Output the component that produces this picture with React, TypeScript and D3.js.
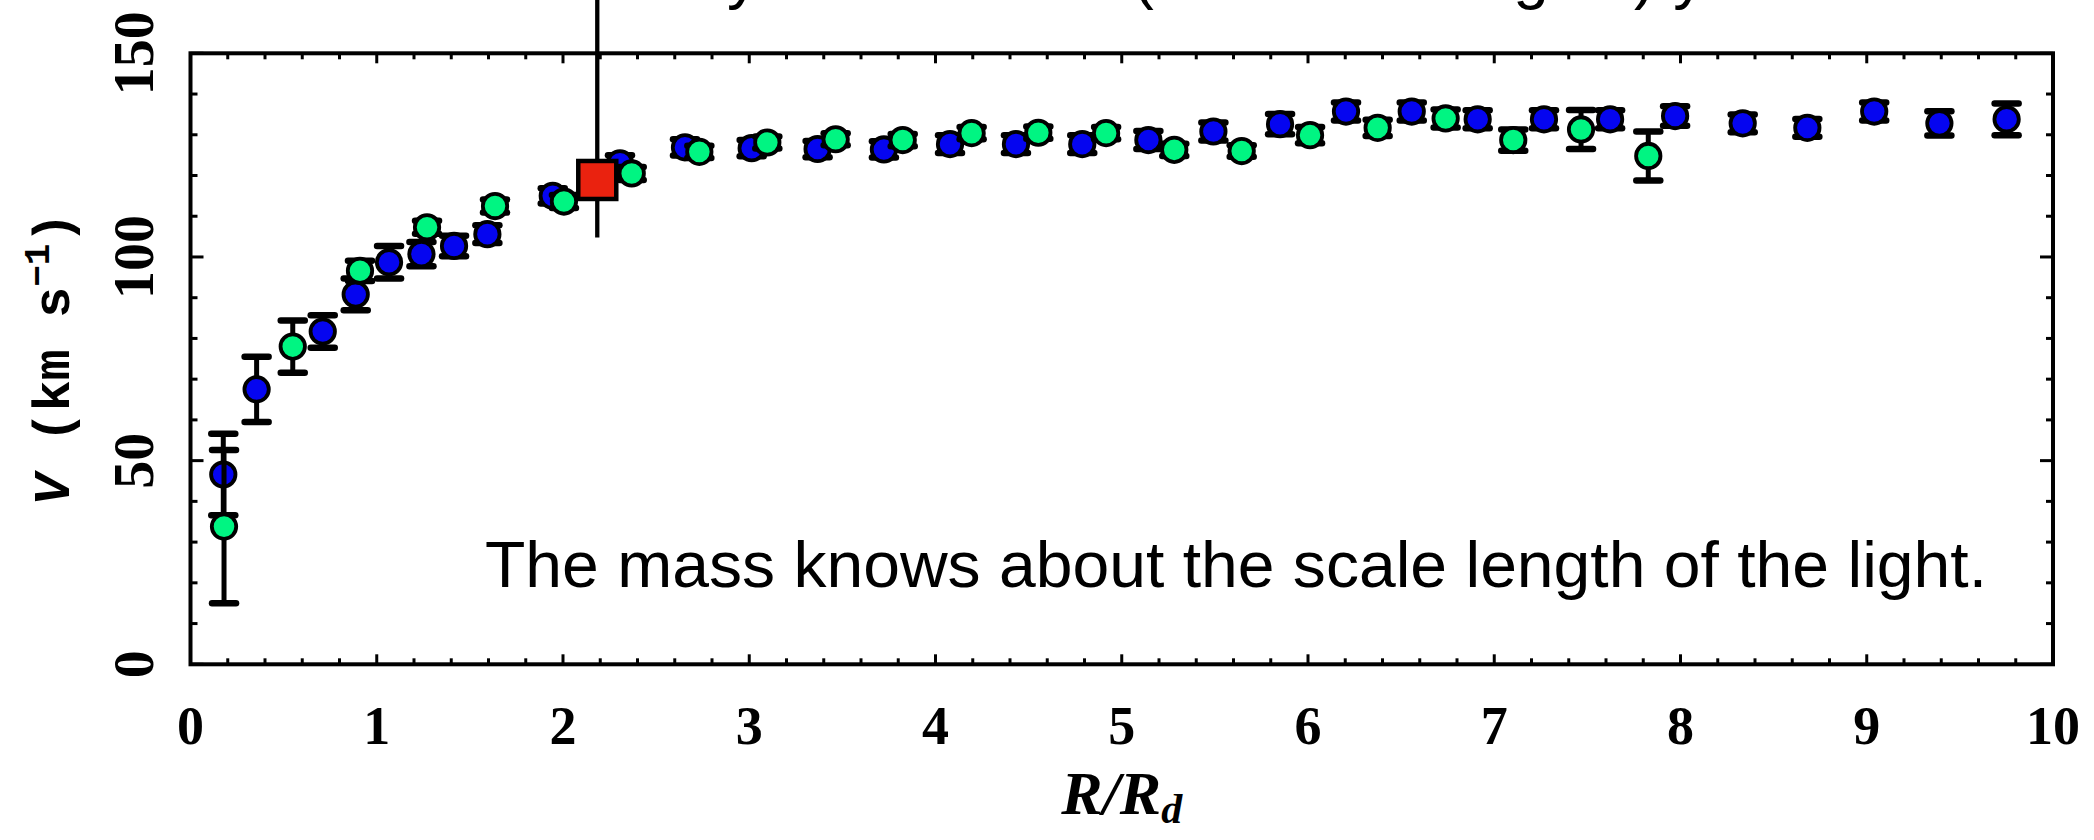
import React from "react";
import * as d3 from "d3";

// ---- data ----
const xTickLabels = [0, 1, 2, 3, 4, 5, 6, 7, 8, 9, 10];
const yTickLabels = [0, 50, 100, 150];

const blueR = [0.176, 0.355, 0.71, 0.887, 1.066, 1.24, 1.415, 1.594, 1.945, 2.306, 2.655, 3.013, 3.367, 3.723, 4.078, 4.432, 4.788, 5.143, 5.492, 5.85, 6.204, 6.557, 6.911, 7.267, 7.622, 7.971, 8.334, 8.681, 9.04, 9.39, 9.751];
const blueV = [46.6, 67.5, 81.7, 90.8, 98.7, 100.7, 102.7, 105.6, 115.0, 123.0, 126.9, 126.7, 126.5, 126.4, 127.7, 127.7, 127.7, 128.7, 130.8, 132.6, 135.7, 135.7, 133.8, 133.8, 133.8, 134.6, 132.8, 131.7, 135.7, 132.8, 133.8];
const blueErr = [10, 8, 4, 3.9, 4, 3, 2.5, 2.2, 1.9, 2, 2, 2, 2, 2, 2.2, 2.2, 2.2, 2.2, 2.2, 2.5, 2.2, 2.2, 2.2, 2.2, 2.2, 2.4, 2.2, 2.2, 2.2, 3, 3.9];

const greenR = [0.18, 0.549, 0.91, 1.27, 1.635, 2.005, 2.369, 2.732, 3.097, 3.464, 3.824, 4.194, 4.552, 4.916, 5.282, 5.644, 6.011, 6.374, 6.739, 7.102, 7.466, 7.827];
const greenV = [33.8, 78.0, 96.6, 107.3, 112.5, 113.6, 120.5, 125.8, 128.1, 128.9, 128.7, 130.4, 130.5, 130.4, 126.3, 126.0, 129.9, 131.7, 134.0, 128.7, 131.3, 124.8];
const greenErr = [18.8, 6.4, 2.5, 1.6, 1.6, 1.6, 1.6, 1.5, 1.5, 1.5, 1.5, 1.5, 1.5, 1.5, 1.5, 1.4, 2, 2, 2.2, 2.6, 4.8, 6];

const redR = [2.184];
const redV = [118.9];
const redLo = [104.8];
const redHi = [170];

const annotation = "The mass knows about the scale length of the light.";
const topLine = "The disk velocity is at its max (2.2 scale lengths) yet";

const W = 2094;
const H = 840;

const BLUE = "#0505F0";
const GREEN = "#00F582";
const RED = "#EA220F";

export default function App() {
  const x = d3.scaleLinear().domain([0, 10]).range([190.5, 2053]);
  const y = d3.scaleLinear().domain([0, 150]).range([664.3, 53.3]);
  const [x0, x1] = x.range();
  const [y0, y1] = y.range();

  const xMinor = x.ticks(50);
  const yMinor = y.ticks(15);

  const r = 12.2;
  const capHalf = 12;

  const series = (R: number[], V: number[], E: number[], fill: string, key: string) => (
    <g key={key}>
      {R.map((rv, i) => {
        const cx = x(rv);
        const top = y(V[i] + E[i]);
        const bot = y(V[i] - E[i]);
        return (
          <g key={i}>
            <line x1={cx} x2={cx} y1={top} y2={bot} stroke="#000" strokeWidth={5} />
            <line x1={cx - capHalf} x2={cx + capHalf} y1={top} y2={top} stroke="#000" strokeWidth={6.5} strokeLinecap="round" />
            <line x1={cx - capHalf} x2={cx + capHalf} y1={bot} y2={bot} stroke="#000" strokeWidth={6.5} strokeLinecap="round" />
            <circle cx={cx} cy={y(V[i])} r={r} fill={fill} stroke="#000" strokeWidth={3.8} />
          </g>
        );
      })}
    </g>
  );

  return (
    <div style={{ position: "absolute", left: 0, top: 0 }}>
      <svg width={W} height={H} style={{ display: "block", background: "#fff" }}>
        {/* heading line, cut off at the top edge as in the reference */}
        <text x={286} y={-3} fontFamily="Liberation Sans, Arial, sans-serif" fontSize={64} fill="#000">
          {topLine}
        </text>

        {/* ticks */}
        {xMinor.map((t, i) => {
          const major = Math.abs(t - Math.round(t)) < 1e-6;
          const len = major ? 10 : 6;
          return (
            <g key={"xt" + i}>
              <line x1={x(t)} x2={x(t)} y1={y0} y2={y0 - len} stroke="#000" strokeWidth={3} />
              <line x1={x(t)} x2={x(t)} y1={y1} y2={y1 + len} stroke="#000" strokeWidth={3} />
            </g>
          );
        })}
        {yMinor.map((t, i) => {
          const major = t % 50 === 0;
          const len = major ? 13 : 7;
          return (
            <g key={"yt" + i}>
              <line x1={x0} x2={x0 + len} y1={y(t)} y2={y(t)} stroke="#000" strokeWidth={3} />
              <line x1={x1} x2={x1 - len} y1={y(t)} y2={y(t)} stroke="#000" strokeWidth={3} />
            </g>
          );
        })}

        {/* frame */}
        <rect x={x0} y={y1} width={x1 - x0} height={y0 - y1} fill="none" stroke="#000" strokeWidth={4} />

        {/* x tick labels */}
        {xTickLabels.map((t) => (
          <text key={"xl" + t} x={x(t)} y={744} textAnchor="middle" fontFamily="Liberation Serif, serif" fontWeight="bold" fontSize={54} fill="#000">
            {t}
          </text>
        ))}
        {/* y tick labels */}
        {yTickLabels.map((t) => (
          <text key={"yl" + t} transform={`translate(153,${y(t)}) rotate(-90)`} textAnchor="middle" fontFamily="Liberation Serif, serif" fontWeight="bold" fontSize={56} fill="#000">
            {t}
          </text>
        ))}

        {/* axis titles */}
        <text x={(x0 + x1) / 2} y={814} textAnchor="middle" fontFamily="Liberation Serif, serif" fontStyle="italic" fontWeight="bold" fontSize={62} fill="#000">
          R/R<tspan fontSize={42} dy={9}>d</tspan>
        </text>
        <text transform={`translate(69,${(y0 + y1) / 2}) rotate(-90)`} textAnchor="middle" fontFamily="Liberation Mono, monospace" fontWeight="bold" fontSize={52} fill="#000">
          <tspan fontStyle="italic">V</tspan> (km s<tspan fontSize={36} dy={-20}>−1</tspan><tspan dy={20}>)</tspan>
        </text>

        {/* data */}
        {series(blueR, blueV, blueErr, BLUE, "blue")}
        {series(greenR, greenV, greenErr, GREEN, "green")}

        {redR.map((rv, i) => (
          <g key={"red" + i}>
            <line x1={x(rv)} x2={x(rv)} y1={y(redLo[i])} y2={y(redHi[i])} stroke="#000" strokeWidth={4.3} />
            <rect x={x(rv) - 19} y={y(redV[i]) - 19} width={38} height={38} fill={RED} stroke="#000" strokeWidth={4.5} />
          </g>
        ))}

        {/* annotation */}
        <text x={485} y={587} fontFamily="Liberation Sans, Arial, sans-serif" fontSize={64} textLength={1502} lengthAdjust="spacingAndGlyphs" fill="#000">
          {annotation}
        </text>
      </svg>
    </div>
  );
}
